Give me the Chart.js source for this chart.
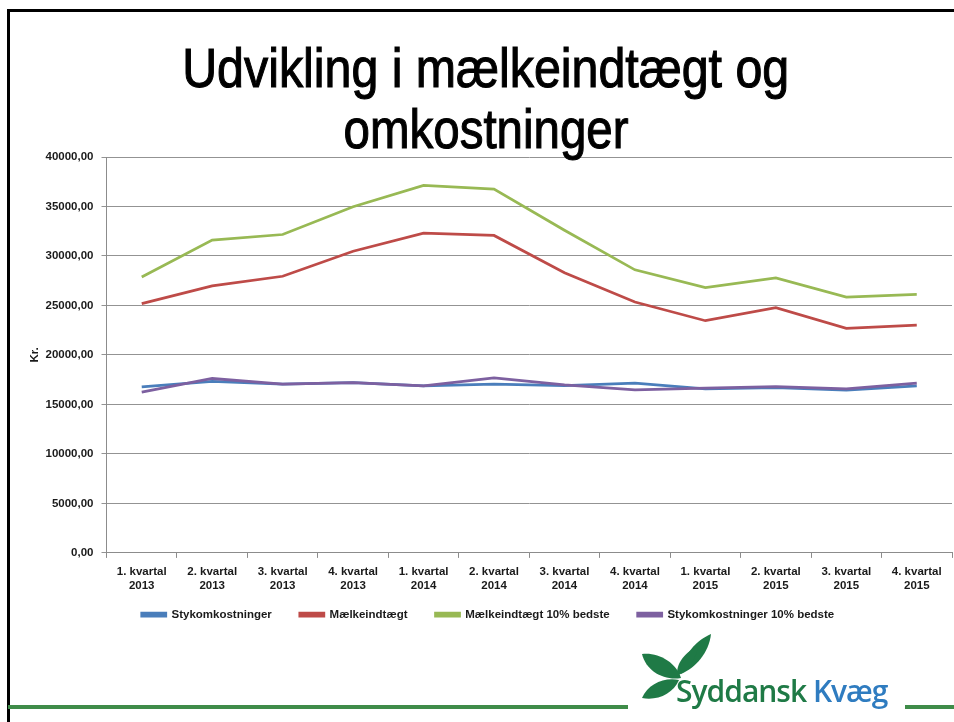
<!DOCTYPE html>
<html>
<head>
<meta charset="utf-8">
<script src="https://cdn.jsdelivr.net/npm/chart.js@4.4.0/dist/chart.umd.min.js"></script>
<style>
  html, body { margin:0; padding:0; background:#fff; }
  body { width:954px; height:722px; position:relative; overflow:hidden; font-family:"Liberation Sans", Arial, sans-serif; }
  #c { position:absolute; left:0; top:0; }
  .bt { position:absolute; background:#000; }
  .tl { position:absolute; left:9px; width:954px; text-align:center; font-size:56px; line-height:56px; color:#000; white-space:nowrap; font-weight:normal; -webkit-text-stroke:1.1px #000; }
  .tl span { display:inline-block; transform-origin:50% 50%; }
  #gl1 { position:absolute; left:8px; top:705px; width:620px; height:4px; background:#3f8c49; }
  #gl2 { position:absolute; left:905px; top:705px; width:49px; height:4px; background:#3f8c49; }
  #logo { position:absolute; left:636px; top:630px; width:262px; height:92px; }
  #lt { position:absolute; left:676px; top:671px; font-family:"Open Sans","Noto Sans",sans-serif; font-weight:600; font-size:30px; line-height:40px; letter-spacing:-1px; white-space:nowrap; }
</style>
</head>
<body>
<canvas id="c" width="954" height="722"></canvas>
<div class="bt" style="left:7px;top:9px;width:947px;height:3px;"></div>
<div class="bt" style="left:7px;top:9px;width:3px;height:713px;"></div>
<div class="tl" id="t1" style="top:40px;"><span>Udvikling i mælkeindtægt og</span></div>
<div class="tl" id="t2" style="top:101px;"><span>omkostninger</span></div>
<div id="gl1"></div>
<div id="gl2"></div>
<svg id="logo" viewBox="636 630 262 92" width="262" height="92">
  <path d="M711 634 C697 640 682 655 681 674 C695 668 709 653 711 634 Z" fill="#1f7a46"/>
  <path d="M698 646 C686 652 676 662 677 676 C688 671 696 660 698 646 Z" fill="#1f7a46"/>
  <path d="M642 654 C658 652 676 662 681 678 C664 681 646 671 642 654 Z" fill="#1f7a46"/>
  <path d="M642 698 C648 684 664 677 679 680 C673 694 657 701 642 698 Z" fill="#1f7a46"/>
</svg>
<div id="lt"><span style="color:#1f7a46">Syddansk</span> <span style="color:#2f7cc0">Kvæg</span></div>

<script>
const categories = [
  ["1. kvartal","2013"],["2. kvartal","2013"],["3. kvartal","2013"],["4. kvartal","2013"],
  ["1. kvartal","2014"],["2. kvartal","2014"],["3. kvartal","2014"],["4. kvartal","2014"],
  ["1. kvartal","2015"],["2. kvartal","2015"],["3. kvartal","2015"],["4. kvartal","2015"]
];
const seriesNames = ["Stykomkostninger","Mælkeindtægt","Mælkeindtægt 10% bedste","Stykomkostninger 10% bedste"];
const stykomkostninger = [16780,17320,17050,17200,16880,17050,16900,17150,16570,16700,16440,16880];
const maelkeindtaegt = [25180,26970,27950,30480,32300,32070,28300,25350,23460,24780,22680,23020];
const maelkeindtaegt10 = [27880,31600,32170,34970,37130,36760,32600,28600,26800,27780,25850,26120];
const stykomkostninger10 = [16240,17620,17050,17200,16880,17690,16980,16470,16640,16810,16570,17150];
const yTicks = { min:0, max:40000, step:5000 };
const colors = ["#4a7ebb","#be4b48","#98b954","#7d60a0"];

function fitLine(id, target){
  const s = document.querySelector('#'+id+' span');
  const w = s.getBoundingClientRect().width;
  s.style.transform = 'scaleX(' + (target/w) + ')';
}
fitLine('t1', 607);
fitLine('t2', 285);

const values = [stykomkostninger, maelkeindtaegt, maelkeindtaegt10, stykomkostninger10];
const orders = [4,3,2,1];
const datasets = values.map((v,i)=>({
  label: seriesNames[i],
  data: v,
  borderColor: colors[i],
  backgroundColor: colors[i],
  borderWidth: 2.75,
  pointRadius: 0,
  tension: 0,
  order: orders[i]
}));

const axisFont = { size: 11.5, weight: 'bold' };

// place legend row right under the two-line category labels
const legendShift = {
  id: 'legendShift',
  afterLayout(chart) {
    const lg = chart.legend;
    const want = chart.scales.x.top + 28;
    const dy = lg.top - want;
    lg.top -= dy; lg.bottom -= dy;
  }
};

Chart.defaults.font.family = '"Liberation Sans", Arial, sans-serif';
Chart.defaults.color = '#1a1a1a';

new Chart(document.getElementById('c'), {
  type: 'line',
  data: { labels: categories, datasets },
  plugins: [legendShift],
  options: {
    responsive: false,
    animation: false,
    events: [],
    layout: { padding: { left: 24, right: 2, top: 157, bottom: 73 } },
    plugins: {
      tooltip: { enabled:false },
      title: { display:false },
      legend: {
        position: 'bottom',
        labels: {
          boxWidth: 24, boxHeight: 3, padding: 28,
          font: axisFont, color: '#1a1a1a',
          sort: (a,b) => a.datasetIndex - b.datasetIndex
        }
      }
    },
    scales: {
      x: {
        offset: true,
        grid: { display: true, drawOnChartArea: false, offset: true, tickLength: 5, color:'#8c8c8c' },
        border: { color: '#8c8c8c' },
        ticks: { font: axisFont, color:'#1a1a1a', padding: 7, maxRotation: 0, autoSkip: false }
      },
      y: {
        min: yTicks.min, max: yTicks.max,
        ticks: { stepSize: yTicks.step, font: axisFont, color:'#1a1a1a', padding: 8,
          callback: v => v.toFixed(2).replace('.', ',') },
        grid: { color: '#939393', tickLength: 5 },
        border: { color: '#8c8c8c' },
        title: { display: true, text: 'Kr.', font: axisFont, color:'#1a1a1a', padding: { top: 4, bottom: 4 } },
        afterFit: s => { s.width = 82.5; }
      }
    }
  }
});
</script>
</body>
</html>
